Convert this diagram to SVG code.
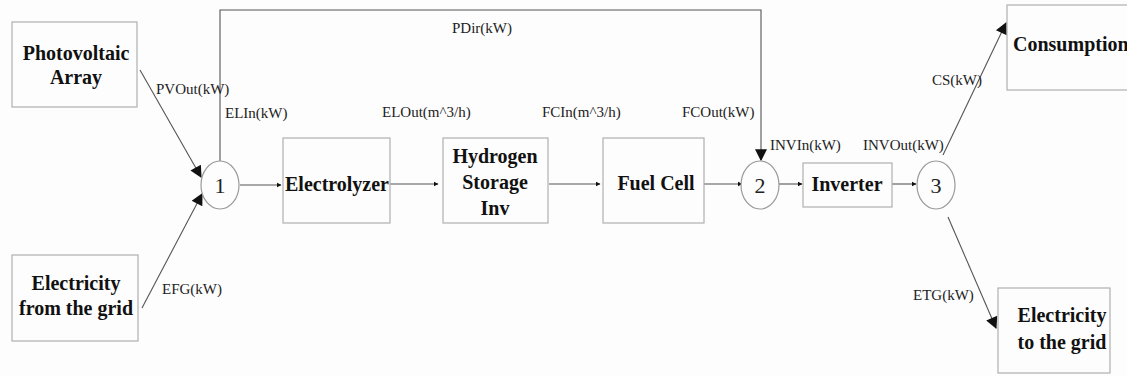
<svg xmlns="http://www.w3.org/2000/svg" width="1127" height="376" viewBox="0 0 1127 376">
<style>
.box{fill:#fdfdfd;stroke:#b0b0b0;stroke-width:1.2}
.node{fill:#fdfdfd;stroke:#9a9a9a;stroke-width:1.2}
text{font-family:'Liberation Serif','Times New Roman','DejaVu Serif',serif}
.bt{font-weight:bold;font-size:20px;fill:#111;text-anchor:middle}
.nt{font-size:22px;fill:#222;text-anchor:middle}
.lb{font-size:15px;fill:#222}
.ln{fill:none;stroke:#555;stroke-width:1.1}
</style>
<defs>
<marker id="ah" viewBox="0 0 10 10" refX="9" refY="5" markerWidth="9" markerHeight="9" markerUnits="userSpaceOnUse" orient="auto">
<path d="M0,0 L10,5 L0,10 Z" fill="#111"/>
</marker>
<marker id="ahs" viewBox="0 0 10 10" refX="9" refY="5" markerWidth="5" markerHeight="7" markerUnits="userSpaceOnUse" orient="auto">
<path d="M0,0 L10,5 L0,10 Z" fill="#111"/>
</marker>
<marker id="ahl" viewBox="0 0 10 10" refX="9" refY="5" markerWidth="16" markerHeight="12" markerUnits="userSpaceOnUse" orient="auto">
<path d="M0,0 L10,5 L0,10 Z" fill="#111"/>
</marker>
</defs>
<rect width="1127" height="376" fill="#fdfdfd"/>

<g id="connectors">
<path class="ln" d="M220,161 V10 H761 V160" marker-end="url(#ahl)"/>
<line class="ln" x1="140" y1="70" x2="201" y2="177" marker-end="url(#ahl)"/>
<line class="ln" x1="142" y1="308" x2="202" y2="194" marker-end="url(#ahl)"/>
<line class="ln" x1="240" y1="185" x2="281" y2="185" marker-end="url(#ahs)"/>
<line class="ln" x1="390" y1="184" x2="438" y2="184" marker-end="url(#ahs)"/>
<line class="ln" x1="549" y1="184" x2="600" y2="184" marker-end="url(#ahs)"/>
<line class="ln" x1="704" y1="184" x2="742" y2="184" marker-end="url(#ahs)"/>
<line class="ln" x1="779" y1="184" x2="802" y2="184" marker-end="url(#ahs)"/>
<line class="ln" x1="892" y1="184" x2="916" y2="184" marker-end="url(#ahs)"/>
<line class="ln" x1="943" y1="155" x2="1006" y2="23" marker-end="url(#ahl)"/>
<line class="ln" x1="948" y1="217" x2="996" y2="328" marker-end="url(#ahl)"/>
<text class="lb" x="156" y="94">PVOut(kW)</text>
<text class="lb" x="225" y="118">ELIn(kW)</text>
<text class="lb" x="162" y="294">EFG(kW)</text>
<text class="lb" x="452" y="33">PDir(kW)</text>
<text class="lb" x="382" y="117">ELOut(m^3/h)</text>
<text class="lb" x="542" y="117">FCIn(m^3/h)</text>
<text class="lb" x="682" y="117">FCOut(kW)</text>
<text class="lb" x="770" y="150">INVIn(kW)</text>
<text class="lb" x="863" y="150">INVOut(kW)</text>
<text class="lb" x="932" y="85">CS(kW)</text>
<text class="lb" x="913" y="300">ETG(kW)</text>
</g>

<g id="pv">
<rect class="box" x="12" y="22" width="125" height="85"/>
<text class="bt" x="76" y="60">Photovoltaic</text>
<text class="bt" x="76" y="84">Array</text>
</g>
<g id="grid-in">
<rect class="box" x="12" y="255" width="126" height="86"/>
<text class="bt" x="76" y="290">Electricity</text>
<text class="bt" x="76" y="315">from the grid</text>
</g>
<g id="n1">
<ellipse class="node" cx="220" cy="185" rx="19" ry="24"/>
<text class="nt" x="220" y="193">1</text>
</g>
<g id="electrolyzer">
<rect class="box" x="283" y="138" width="107" height="85"/>
<text class="bt" x="337" y="191">Electrolyzer</text>
</g>
<g id="storage">
<rect class="box" x="443" y="138" width="105" height="85"/>
<text class="bt" x="495" y="163">Hydrogen</text>
<text class="bt" x="495" y="189">Storage</text>
<text class="bt" x="495" y="215">Inv</text>
</g>
<g id="fuelcell">
<rect class="box" x="603" y="138" width="101" height="85"/>
<text class="bt" x="656" y="190">Fuel Cell</text>
</g>
<g id="n2">
<ellipse class="node" cx="760" cy="185" rx="19" ry="24"/>
<text class="nt" x="760" y="193">2</text>
</g>
<g id="inverter">
<rect class="box" x="803" y="163" width="89" height="44"/>
<text class="bt" x="847" y="191">Inverter</text>
</g>
<g id="n3">
<ellipse class="node" cx="936" cy="185" rx="19" ry="24"/>
<text class="nt" x="936" y="193">3</text>
</g>
<g id="consumption">
<rect class="box" x="1007" y="5" width="125" height="85"/>
<text class="bt" x="1013" y="51" style="text-anchor:start">Consumption</text>
</g>
<g id="grid-out">
<rect class="box" x="998" y="288" width="112" height="85"/>
<text class="bt" x="1062" y="322">Electricity</text>
<text class="bt" x="1062" y="349">to the grid</text>
</g>
</svg>
